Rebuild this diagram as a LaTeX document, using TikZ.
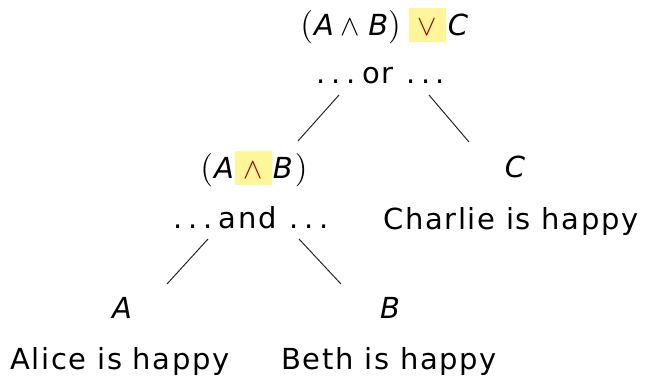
\RequirePackage{fix-cm}
\documentclass[tikz,border=0pt]{standalone}
\usepackage{fontspec}
\usepackage{graphicx}
\setmainfont{DejaVu Sans}[LetterSpace=5.5]
\definecolor{hl}{RGB}{255,246,153}
\definecolor{opred}{RGB}{153,0,0}
\newcommand\vA{\mbox{\itshape A}}
\newcommand\vB{\mbox{\itshape B}}
\newcommand\vC{\mbox{\itshape C}}
\newcommand\lp{\scalebox{1.15}{$($}}
\newcommand\rp{\scalebox{1.15}{$)$}}
\newcommand\sdots{.\kern2.8pt.\kern2.8pt.\kern3.2pt}
\newcommand\edots{.\kern2.8pt.\kern2.8pt.}
\newcommand\hlop[1]{{\setlength\fboxsep{0pt}\colorbox{hl}{\makebox[18.5pt]{\rule[-3.5pt]{0pt}{17pt}\color{opred}$#1$}}}}
\tikzset{
  txt/.style={inner sep=0pt, anchor=base, font=\fontsize{14.5}{17}\selectfont},
  edge/.style={line width=0.5pt, black!85}
}
\begin{document}
\begin{tikzpicture}[x=0.5pt, y=-0.5pt]
\useasboundingbox (0,0) rectangle (648,377);
% root
\node[txt, anchor=base west] (root) at (300,35) {\lp\hspace{0.5pt}\vA\hspace{3.5pt}$\wedge$\hspace{4pt}\vB\rp\hspace{4pt}\hlop{\vee}\hspace{1pt}\vC};
\node[txt] (or) at (381,83) {\sdots or\hspace{1pt} \edots};
% left inner
\node[txt, anchor=base west] (ab) at (200,178) {\lp\hspace{0.5pt}\vA\hspace{0.5pt}\hlop{\wedge}\hspace{0.5pt}\vB\hspace{1pt}\rp};
\node[txt] (and) at (251,228) {\sdots and\hspace{1pt} \edots};
% right leaf
\node[txt] (c) at (515,177) {\vC};
\node[txt] (charlie) at (511,229) {Charlie is happy};
% lower leaves
\node[txt] (a) at (122,318) {\vA};
\node[txt] (alice) at (120,369) {Alice is happy};
\node[txt] (b) at (390,318) {\vB};
\node[txt] (beth) at (389,369) {Beth is happy};
% connectors
\draw[edge] ([shift={(-42,12)}]or.base) -- ([shift={(98,-37)}]ab.base west);
\draw[edge] ([shift={(48,12)}]or.base) -- ([shift={(-46,-35)}]c.base);
\draw[edge] ([shift={(-43,11)}]and.base) -- ([shift={(45,-34)}]a.base);
\draw[edge] ([shift={(48,11)}]and.base) -- ([shift={(-49,-34)}]b.base);
\end{tikzpicture}
\end{document}
